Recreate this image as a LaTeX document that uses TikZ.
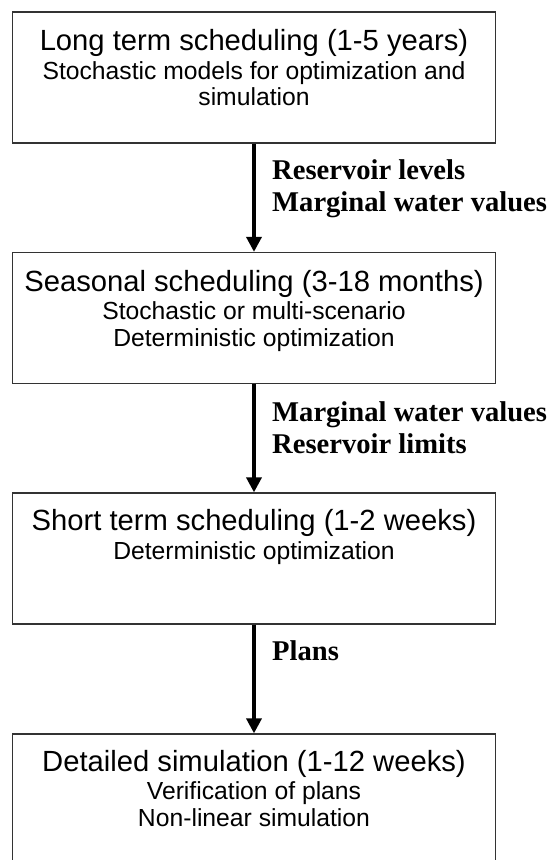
\documentclass[tikz,border=0pt]{standalone}
\usepackage{fontspec}
\setmainfont{Liberation Sans}
\newfontfamily\lblfont{Liberation Serif}
\usetikzlibrary{arrows.meta}
\begin{document}
\begin{tikzpicture}[x=1pt,y=-1pt,
  box/.style={draw=black!80,line width=1.3pt,rectangle,minimum width=483pt,minimum height=131pt,inner sep=0pt},
  ttl/.style={anchor=base,font=\fontsize{29.2}{32}\selectfont,inner sep=0pt},
  sub/.style={anchor=base,font=\fontsize{24.7}{27}\selectfont,inner sep=0pt},
  lbl/.style={anchor=base west,font=\lblfont\bfseries\fontsize{28.6}{31}\selectfont,inner sep=0pt},
  flow/.style={line width=3.5pt,-{Triangle[width=15pt,length=15pt]}}]
\clip (0,0) rectangle (555,860);
\fill[white] (0,0) rectangle (555,860);

% boxes
\node[box] (b1) at (254,77.5) {};
\node[box] (b2) at (254,318) {};
\node[box] (b3) at (254,558.5) {};
\node[box] (b4) at (254,799.5) {};

% box texts
\node[ttl] (t1) at (254,50) {Long term scheduling (1-5 years)};
\node[sub] (s1a) at (254,79) {Stochastic models for optimization and};
\node[sub] (s1b) at (254,105) {simulation};

\node[ttl] (t2) at (254,291) {Seasonal scheduling (3-18 months)};
\node[sub] (s2a) at (254,319.5) {Stochastic or multi-scenario};
\node[sub] (s2b) at (254,346) {Deterministic optimization};

\node[ttl] (t3) at (254,530.5) {Short term scheduling (1-2 weeks)};
\node[sub] (s3a) at (254,559) {Deterministic optimization};

\node[ttl] (t4) at (254,771) {Detailed simulation (1-12 weeks)};
\node[sub] (s4a) at (254,799.5) {Verification of plans};
\node[sub] (s4b) at (254,826) {Non-linear simulation};

% connectors
\draw[flow] (b1.south) -- (b2.north);
\draw[flow] (b2.south) -- (b3.north);
\draw[flow] (b3.south) -- (b4.north);

% labels
\node[lbl] (l1a) at (272,179) {Reservoir levels};
\node[lbl] (l1b) at (272,211) {Marginal water values};
\node[lbl] (l2a) at (272,421) {Marginal water values};
\node[lbl] (l2b) at (272,453) {Reservoir limits};
\node[lbl] (l3a) at (272,660) {Plans};
\end{tikzpicture}
\end{document}
